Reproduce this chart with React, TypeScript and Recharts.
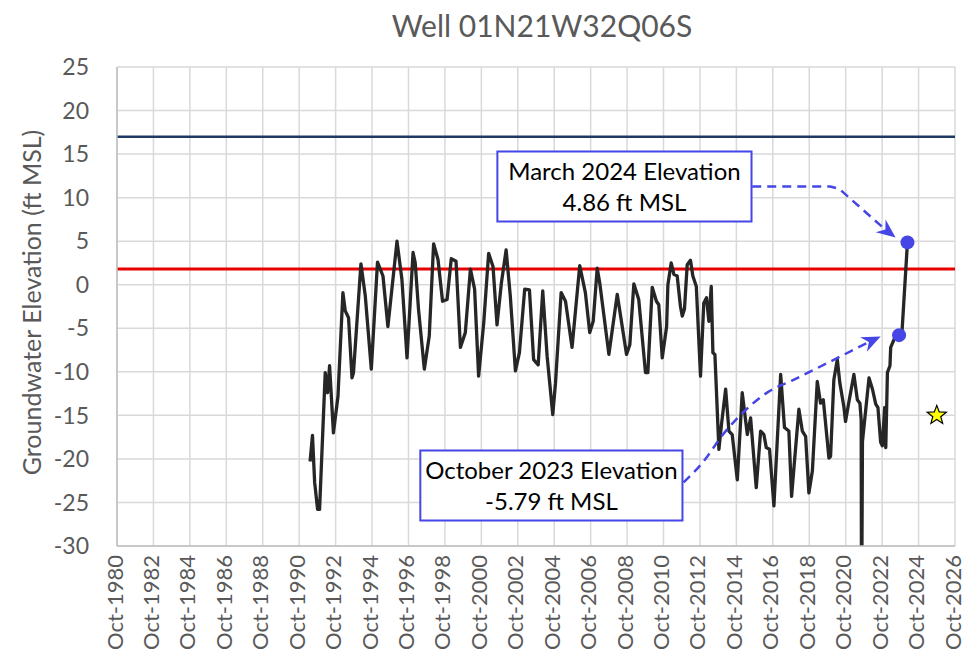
import React from 'react';
import {
  ComposedChart,
  Line,
  XAxis,
  YAxis,
  CartesianGrid,
  ReferenceLine,
  ReferenceDot,
  ReferenceArea,
  Scatter,
  Label,
} from 'recharts';

// ---- data ----
const years = [
  1991.35, 1991.48, 1991.6, 1991.76, 1991.87, 1992.18, 1992.31, 1992.42, 1992.63, 1992.88,
  1993.15, 1993.28, 1993.46, 1993.65, 1993.73, 1994.14, 1994.38, 1994.71, 1995.05, 1995.35,
  1995.62, 1996.12, 1996.39, 1996.67, 1997.0, 1997.12, 1997.3, 1997.62, 1997.89, 1998.13,
  1998.37, 1998.62, 1998.87, 1999.1, 1999.36, 1999.6, 1999.87, 2000.15, 2000.38, 2000.6,
  2000.88, 2001.15, 2001.39, 2001.61, 2001.85, 2002.11, 2002.34, 2002.62, 2002.84, 2003.13,
  2003.39, 2003.62, 2003.87, 2004.12, 2004.36, 2004.67, 2004.82, 2005.13, 2005.37, 2005.73,
  2006.15, 2006.46, 2006.7, 2006.89, 2007.11, 2007.25, 2007.75, 2008.21, 2008.72, 2008.9,
  2009.12, 2009.39, 2009.76, 2009.89, 2010.13, 2010.36, 2010.49, 2010.68, 2010.92, 2010.99,
  2011.17, 2011.32, 2011.5, 2011.68, 2011.78, 2011.9, 2012.05, 2012.23, 2012.36, 2012.55,
  2012.78, 2012.96, 2013.11, 2013.24, 2013.37, 2013.46, 2013.57, 2013.79, 2013.94, 2014.16,
  2014.34, 2014.52, 2014.8, 2015.07, 2015.35, 2015.53, 2015.84, 2016.08, 2016.26, 2016.39,
  2016.57, 2016.81, 2017.18, 2017.39, 2017.63, 2017.78, 2017.91, 2018.18, 2018.37, 2018.55,
  2018.73, 2018.92, 2019.19, 2019.37, 2019.52, 2019.83, 2019.92, 2020.1, 2020.29, 2020.43,
  2020.65, 2020.74, 2020.93, 2021.2, 2021.39, 2021.53, 2021.6, 2021.62, 2021.67, 2022.03,
  2022.22, 2022.4, 2022.52, 2022.67, 2022.76, 2022.89, 2022.95, 2023.04, 2023.18, 2023.22,
  2023.4, 2023.68, 2023.85, 2024.14,
];

const elevations = [
  -20.3, -17.3, -22.7, -25.8, -25.8, -10.1, -12.4, -9.3, -17, -12.8,
  -0.9, -3, -3.8, -10.7, -10.1, 2.4, -1.3, -9.7, 2.6, 1,
  -4.8, 5, 0.6, -8.4, 3.7, 2.5, -2.8, -9.7, -5.9, 4.7,
  2.9, -1.9, -1.7, 3, 2.7, -7.2, -5.5, 1.8, -0.5, -10.5,
  -4.4, 3.6, 2.1, -4.6, 0.2, 4, -1.3, -9.9, -7.8, -0.5,
  -0.6, -8.6, -9.2, -0.7, -8.2, -14.9, -11.3, -0.9, -1.9, -7.2,
  2.2, -0.9, -5.5, -4.2, 1.9, 0.2, -8, -1.1, -8, -6.9,
  0.1, -1.7, -10.1, -10.1, -0.3, -1.9, -2.3, -8.4, -4.8, 0,
  2.5, 1.2, 1, -2.5, -3.6, -2.8, 2.3, 2.8, 1, -0.2,
  -10.5, -2.1, -1.5, -4.2, -0.2, -7.8, -8, -18.9, -15.9, -12,
  -16.8, -17.2, -22.4, -12.4, -17.2, -15.3, -23.3, -16.8, -17.2, -18.7,
  -18.9, -25.4, -10.3, -16.4, -16.8, -24.3, -21, -14.3, -16.8, -17.4,
  -23.9, -21.4, -11.1, -13.6, -13.2, -19.9, -19.7, -10.9, -8.6, -11.3,
  -14, -15.7, -13.4, -10.3, -13.2, -13.6, -15.5, -40, -18, -10.7,
  -12, -13.7, -14.1, -18.1, -18.5, -14.1, -18.7, -10.1, -9.3, -7.2,
  -6.3, -5.79, -5.1, 4.86,
];

const xTicks = [
  1980.75, 1982.75, 1984.75, 1986.75, 1988.75, 1990.75, 1992.75, 1994.75, 1996.75, 1998.75,
  2000.75, 2002.75, 2004.75, 2006.75, 2008.75, 2010.75, 2012.75, 2014.75, 2016.75, 2018.75,
  2020.75, 2022.75, 2024.75, 2026.75,
];
const xTickLabels = [
  'Oct-1980', 'Oct-1982', 'Oct-1984', 'Oct-1986', 'Oct-1988', 'Oct-1990', 'Oct-1992', 'Oct-1994',
  'Oct-1996', 'Oct-1998', 'Oct-2000', 'Oct-2002', 'Oct-2004', 'Oct-2006', 'Oct-2008', 'Oct-2010',
  'Oct-2012', 'Oct-2014', 'Oct-2016', 'Oct-2018', 'Oct-2020', 'Oct-2022', 'Oct-2024', 'Oct-2026',
];
const yTicks = [-30, -25, -20, -15, -10, -5, 0, 5, 10, 15, 20, 25];

const upperThreshold = 17;
const lowerThreshold = 1.8;

const marchPoint = { t: 2024.14, v: 4.86 };
const octoberPoint = { t: 2023.68, v: -5.79 };
const starPoint = [{ t: 2025.75, v: -15 }];

const marchBox = { x1: 2001.63, x2: 2015.58, y1: 7.26, y2: 15.3 };
const marchLines = ['March 2024 Elevation', '4.86 ft MSL'];
const octoberBox = { x1: 1997.4, x2: 2011.79, y1: -27.07, y2: -19.03 };
const octoberLines = ['October 2023 Elevation', '-5.79 ft MSL'];

const marchArrow = [
  { t: 2015.62, v: 11.28 },
  { t: 2019.9, v: 11.28 },
  { t: 2020.4, v: 11.0 },
  { t: 2022.8, v: 6.56 },
];
const marchArrowTip = { t: 2023.49, v: 5.42, angle: 38 };

const octoberArrow = [
  { t: 2011.85, v: -22.7 },
  { t: 2012.9, v: -20.4 },
  { t: 2014.05, v: -17.1 },
  { t: 2015.3, v: -14.3 },
  { t: 2016.5, v: -12.3 },
  { t: 2017.8, v: -11.0 },
  { t: 2021.88, v: -6.73 },
];
const octoberArrowTip = { t: 2022.67, v: -5.94, angle: -25 };

const mainData = years.map((t, i) => ({ t, v: elevations[i] }));

// ---- styles ----
const FONT = 'Lato, sans-serif';
const GRAY_TEXT = '#595959';
const BLUE = '#4646E6';

const XTick = (props: any) => {
  const { x, y, payload } = props;
  const idx = xTicks.indexOf(payload.value);
  const label = idx >= 0 ? xTickLabels[idx] : String(payload.value);
  const lx = x - 3;
  return (
    <text
      x={lx}
      y={y}
      transform={`rotate(-90, ${lx}, ${y})`}
      textAnchor="end"
      dominantBaseline="central"
      fill={GRAY_TEXT}
      fontSize={22}
      fontFamily={FONT}
    >
      {label}
    </text>
  );
};

const boxLabel = (lines: string[]) => (props: any) => {
  const vb = props.viewBox || {};
  const cx = vb.x + vb.width / 2;
  return (
    <g>
      <text x={cx} y={vb.y + 29} textAnchor="middle" fill="#000" fontSize={24} fontFamily={FONT}>
        {lines[0]}
      </text>
      <text x={cx} y={vb.y + 60} textAnchor="middle" fill="#000" fontSize={24} fontFamily={FONT}>
        {lines[1]}
      </text>
    </g>
  );
};

const arrowHead = (angle: number) => (props: any) => {
  const { cx, cy } = props;
  return (
    <polygon
      points="0,0 -19,-8 -13,0 -19,8"
      fill={BLUE}
      transform={`translate(${cx}, ${cy}) rotate(${angle})`}
    />
  );
};

const StarShape = (props: any) => {
  const { cx, cy } = props;
  const pts: string[] = [];
  for (let i = 0; i < 10; i++) {
    const r = i % 2 === 0 ? 10 : 4.2;
    const a = -Math.PI / 2 + (i * Math.PI) / 5;
    pts.push(`${cx + r * Math.cos(a)},${cy + r * Math.sin(a)}`);
  }
  return <polygon points={pts.join(' ')} fill="#FFFF00" stroke="#000" strokeWidth={1.2} />;
};

const YLabel = (props: any) => {
  const vb = props.viewBox || {};
  const x = vb.x + 31;
  const y = vb.y + vb.height / 2 - 4;
  return (
    <text
      x={x}
      y={y}
      transform={`rotate(-90, ${x}, ${y})`}
      textAnchor="middle"
      dominantBaseline="central"
      fill={GRAY_TEXT}
      fontSize={25}
      fontFamily={FONT}
    >
      Groundwater Elevation (ft MSL)
    </text>
  );
};

export default function App() {
  return (
    <div style={{ position: 'absolute', left: 0, top: 0, width: 964, height: 666, background: '#fff' }}>
      <svg width={964} height={60} style={{ position: 'absolute', left: 0, top: 0 }}>
        <text x={542} y={37} textAnchor="middle" fill={GRAY_TEXT} fontSize={30} fontFamily={FONT}>
          Well 01N21W32Q06S
        </text>
      </svg>
      <div style={{ position: 'absolute', left: 0, top: 0 }}>
        <ComposedChart width={964} height={666} margin={{ top: 67, right: 9, bottom: 0, left: 0 }}>
          <CartesianGrid stroke="#D9D9D9" strokeWidth={1.5} />
          <XAxis
            type="number"
            dataKey="t"
            domain={[1980.75, 2026.75]}
            ticks={xTicks}
            interval={0}
            height={120}
            tickSize={0}
            tickMargin={9}
            tickLine={false}
            axisLine={{ stroke: '#BFBFBF', strokeWidth: 1.5 }}
            tick={<XTick />}
            allowDataOverflow
          />
          <YAxis
            type="number"
            domain={[-30, 25]}
            ticks={yTicks}
            interval={0}
            width={117}
            tickSize={0}
            tickMargin={28}
            tickLine={false}
            axisLine={{ stroke: '#BFBFBF', strokeWidth: 1.5 }}
            tick={{ fill: GRAY_TEXT, fontSize: 23, fontFamily: FONT }}
            allowDataOverflow
          >
            <Label content={<YLabel />} />
          </YAxis>
          <ReferenceLine y={upperThreshold} stroke="#1F3864" strokeWidth={2.5} />
          <ReferenceLine y={lowerThreshold} stroke="#E60000" strokeWidth={3} />
          <ReferenceArea
            x1={marchBox.x1}
            x2={marchBox.x2}
            y1={marchBox.y1}
            y2={marchBox.y2}
            fill="#fff"
            fillOpacity={1}
            stroke={BLUE}
            strokeWidth={2}
            label={boxLabel(marchLines)}
          />
          <ReferenceArea
            x1={octoberBox.x1}
            x2={octoberBox.x2}
            y1={octoberBox.y1}
            y2={octoberBox.y2}
            fill="#fff"
            fillOpacity={1}
            stroke={BLUE}
            strokeWidth={2}
            label={boxLabel(octoberLines)}
          />
          <Line
            data={mainData}
            dataKey="v"
            type="linear"
            stroke="#262626"
            strokeWidth={3.3}
            strokeLinejoin="round"
            dot={false}
            activeDot={false}
            isAnimationActive={false}
          />
          <Line
            data={marchArrow}
            dataKey="v"
            type="linear"
            stroke={BLUE}
            strokeWidth={2.5}
            strokeDasharray="9 6"
            dot={false}
            activeDot={false}
            isAnimationActive={false}
          />
          <Line
            data={octoberArrow}
            dataKey="v"
            type="monotone"
            stroke={BLUE}
            strokeWidth={2.5}
            strokeDasharray="9 6"
            dot={false}
            activeDot={false}
            isAnimationActive={false}
          />
          <ReferenceDot x={marchArrowTip.t} y={marchArrowTip.v} r={1} shape={arrowHead(marchArrowTip.angle)} />
          <ReferenceDot x={octoberArrowTip.t} y={octoberArrowTip.v} r={1} shape={arrowHead(octoberArrowTip.angle)} />
          <ReferenceDot x={marchPoint.t} y={marchPoint.v} r={7} fill={BLUE} stroke="none" />
          <ReferenceDot x={octoberPoint.t} y={octoberPoint.v} r={7} fill={BLUE} stroke="none" />
          <Scatter data={starPoint} dataKey="v" shape={<StarShape />} isAnimationActive={false} />
        </ComposedChart>
      </div>
    </div>
  );
}
